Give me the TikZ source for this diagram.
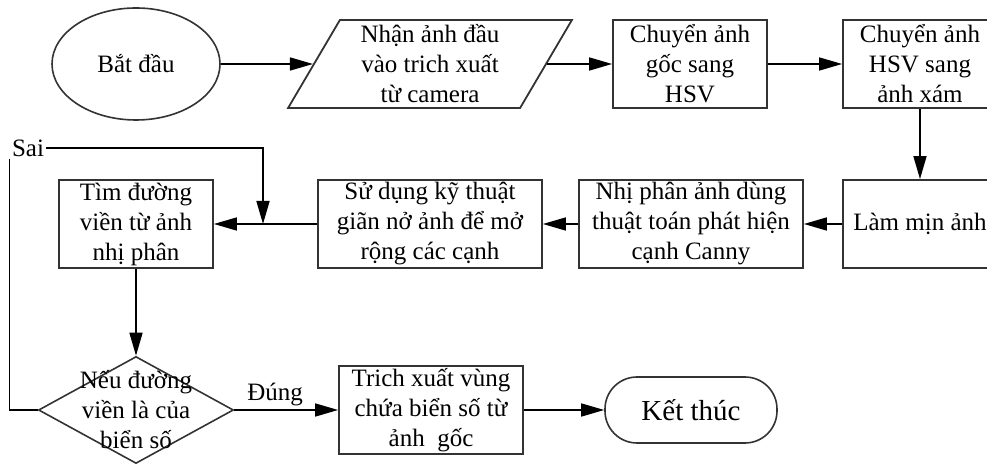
\documentclass[tikz,border=0pt]{standalone}
\usepackage{fontspec}
\setmainfont{Liberation Serif}
\usetikzlibrary{shapes.geometric,arrows.meta,positioning,calc}
\newcommand{\bw}{77pt}
\newcommand{\bh}{44pt}
\newcommand{\mnode}[5][]{
  \node [box,minimum width=#3,#1] at #2 (#5) {#4};
}
\newcommand{\medge}[3][]{
  \draw [line,#1] #2 -- #3;
}

\begin{document}
\begin{tikzpicture}[x=0.5pt,y=-0.5pt,
    >={Triangle[length=11.5pt,width=6.5pt]},
    every node/.style={font=\fontsize{12.5}{15}\selectfont,align=center},
    box/.style={draw=black!80,line width=0.9pt,minimum height=\bh,inner sep=1pt},
    line/.style={->,line width=0.8pt}]
  \useasboundingbox (0,0) rectangle (987,464);

  \node [draw=black!80,line width=0.8pt,ellipse,minimum width=84pt,minimum height=56pt] at (136,64) (start) {Bắt đầu};
  \node [draw=black!80,line width=0.9pt,trapezium,trapezium left angle=63,trapezium right angle=117,
         trapezium stretches=true,minimum width=142pt,minimum height=\bh,inner sep=0pt] at (430,64) (input)
        {Nhận ảnh đầu\\vào trich xuất\\từ camera};
  \mnode{(690,64)}{\bw}{Chuyển ảnh\\gốc sang\\HSV}{hsv}
  \mnode{(920,64)}{\bw}{Chuyển ảnh\\HSV sang\\ảnh xám}{gray}

  \mnode{(920,224)}{\bw}{Làm mịn ảnh}{smooth}
  \mnode{(691,224)}{112pt}{Nhị phân ảnh dùng\\thuật toán phát hiện\\cạnh Canny}{canny}
  \mnode{(430,224)}{112pt}{Sử dụng kỹ thuật\\giãn nở ảnh để mở\\rộng các cạnh}{dilate}
  \mnode{(136,224)}{\bw}{Tìm đường\\viền từ ảnh\\nhị phân}{contour}

  \node [draw=black!80,line width=0.8pt,diamond,minimum width=97.5pt,minimum height=53.5pt,inner sep=0pt,
         label={[align=center]center:Nếu đường\\viền là của\\biển số}] at (136,410) (check) {};
  \mnode{(431,410)}{92pt}{Trich xuất vùng\\chứa biển số từ\\ảnh\ \ gốc}{extract}
  \node [draw=black!80,line width=0.8pt,rounded corners=16pt,minimum width=86pt,minimum height=33pt,
         font=\fontsize{14.5}{17}\selectfont] at (691,410) (stop) {Kết thúc};

  \node [fill=white,inner sep=1pt] at (28,148) (sai) {Sai};
  \node [fill=white,inner sep=1pt,anchor=south west] at (245,408) (dung) {Đúng};
  \coordinate (jn) at (263,224);

  \medge{(start)}{(input)}
  \medge{(input.east)}{(hsv)}
  \medge{(hsv)}{(gray)}
  \medge{(gray)}{(smooth)}
  \medge{(smooth)}{(canny)}
  \medge{(canny)}{(dilate)}
  \medge{(dilate)}{(contour)}
  \medge{(contour)}{(check)}
  \medge{(check)}{(extract)}
  \medge{(extract)}{(stop)}
  \draw [line width=0.8pt] (check.west) -| (sai.south west);
  \draw [line] (sai.east) -| (jn);
\end{tikzpicture}
\end{document}
